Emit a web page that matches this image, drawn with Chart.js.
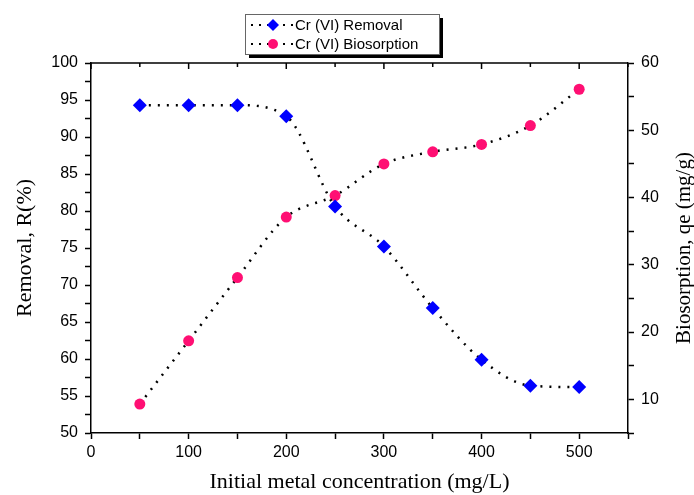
<!DOCTYPE html>
<html>
<head>
<meta charset="utf-8">
<script src="https://cdn.jsdelivr.net/npm/chart.js@4.4.1/dist/chart.umd.min.js"></script>
<style>
  html, body { margin: 0; padding: 0; background: #fff; }
  #wrap { width: 694px; height: 495px; position: relative; }
</style>
</head>
<body>
<div id="wrap"><canvas id="chart" width="694" height="495"></canvas></div>
<script>
// values
const concentrations = [50, 100, 150, 200, 250, 300, 350, 400, 450, 500];
const removal = [94.3, 94.3, 94.3, 92.8, 80.6, 75.2, 66.9, 59.9, 56.4, 56.2];
const biosorption = [9.3, 18.7, 28.1, 37.1, 40.3, 45.0, 46.8, 47.9, 50.7, 56.1];
const seriesNames = ['Cr (VI) Removal', 'Cr (VI) Biosorption'];
const rightTitle = 'Biosorption, qe (mg/g)';

const blue = '#0000ff';
const pink = '#ff0f73';
const sans = "'Liberation Sans', Arial, sans-serif";
const serif = "'Liberation Serif', 'Times New Roman', serif";

// frame top border with inward ticks, right title (reads upward) and boxed legend with shadow
const extras = {
    id: 'extras',
    afterDraw(chart) {
        const c = chart.ctx;
        const area = chart.chartArea;
        const x = chart.scales.x;
        c.save();
        c.strokeStyle = '#000';
        c.lineWidth = 1.5;
        c.beginPath();
        c.moveTo(area.left, area.top);
        c.lineTo(area.right, area.top);
        x.ticks.forEach(t => {
            const px = x.getPixelForValue(t.value);
            c.moveTo(px, area.top);
            c.lineTo(px, area.top + (t.value % 100 === 0 ? 6 : 4));
        });
        c.stroke();

        // right axis title
        c.save();
        c.translate(684, (area.top + area.bottom) / 2);
        c.rotate(-Math.PI / 2);
        c.fillStyle = '#000';
        c.font = '21px ' + serif;
        c.textAlign = 'center';
        c.textBaseline = 'middle';
        c.fillText(rightTitle, 0, 0);
        c.restore();

        // legend
        const bx = 245, by = 14, bw = 194, bh = 40;
        c.fillStyle = '#000';
        c.fillRect(bx + 4, by + 4, bw, bh);
        c.fillStyle = '#fff';
        c.fillRect(bx, by, bw, bh);
        c.strokeStyle = '#666';
        c.lineWidth = 1;
        c.strokeRect(bx + 0.5, by + 0.5, bw, bh);
        chart.data.datasets.forEach((ds, i) => {
            const cy = by + 11 + i * 19;
            c.strokeStyle = '#000';
            c.lineWidth = 2;
            c.setLineDash([2, 6]);
            c.beginPath();
            c.moveTo(bx + 6, cy);
            c.lineTo(bx + 48, cy);
            c.stroke();
            c.setLineDash([]);
            c.fillStyle = ds.pointBackgroundColor;
            c.beginPath();
            if (ds.pointStyle === 'rectRot') {
                c.moveTo(bx + 28, cy - 6);
                c.lineTo(bx + 34, cy);
                c.lineTo(bx + 28, cy + 6);
                c.lineTo(bx + 22, cy);
            } else {
                c.arc(bx + 28, cy, 5, 0, Math.PI * 2);
            }
            c.fill();
            c.fillStyle = '#000';
            c.font = '15px ' + sans;
            c.textBaseline = 'middle';
            c.fillText(ds.label, bx + 50, cy + 1);
        });
        c.restore();
    }
};

const ctx = document.getElementById('chart').getContext('2d');
new Chart(ctx, {
    type: 'line',
    data: {
        labels: concentrations,
        datasets: [{
            label: seriesNames[0],
            data: concentrations.map((c, i) => ({x: c, y: removal[i]})),
            yAxisID: 'y',
            borderColor: '#000',
            borderWidth: 2.5,
            borderDash: [2, 7],
            cubicInterpolationMode: 'monotone',
            pointStyle: 'rectRot',
            pointRadius: 7,
            pointBackgroundColor: blue,
            pointBorderColor: blue,
            pointBorderWidth: 0
        }, {
            label: seriesNames[1],
            data: concentrations.map((c, i) => ({x: c, y: biosorption[i]})),
            yAxisID: 'y1',
            borderColor: '#000',
            borderWidth: 2.5,
            borderDash: [2, 7],
            cubicInterpolationMode: 'monotone',
            pointStyle: 'circle',
            pointRadius: 5.5,
            pointBackgroundColor: pink,
            pointBorderColor: pink,
            pointBorderWidth: 0
        }]
    },
    options: {
        responsive: false,
        animation: false,
        layout: { padding: { top: 63, left: 0, right: 0, bottom: 0 } },
        plugins: {
            legend: { display: false },
            tooltip: { enabled: false }
        },
        scales: {
            x: {
                type: 'linear',
                min: 0,
                max: 550,
                afterFit: s => { s.height = 62; },
                ticks: {
                    stepSize: 50,
                    autoSkip: false,
                    maxRotation: 0,
                    color: '#000',
                    font: { family: sans, size: 16 },
                    padding: 4,
                    callback: v => (v % 100 === 0 && v <= 500 ? v : '')
                },
                grid: { drawOnChartArea: false, tickLength: 6, color: '#000', tickWidth: 1.5 },
                border: { color: '#000', width: 1.5 },
                title: {
                    display: true,
                    text: 'Initial metal concentration (mg/L)',
                    color: '#000',
                    font: { family: serif, size: 22 },
                    padding: { top: 4, bottom: 0 }
                }
            },
            y: {
                min: 50,
                max: 100,
                position: 'left',
                afterFit: s => { s.width = 91; },
                ticks: {
                    stepSize: 2.5,
                    autoSkip: false,
                    color: '#000',
                    font: { family: sans, size: 16 },
                    padding: 7,
                    callback: v => (v % 5 === 0 ? v : '')
                },
                grid: { drawOnChartArea: false, tickLength: 6, color: '#000', tickWidth: 1.5 },
                border: { color: '#000', width: 1.5 },
                title: {
                    display: true,
                    text: 'Removal, R(%)',
                    color: '#000',
                    font: { family: serif, size: 22 },
                    padding: { top: 12, bottom: 0 }
                }
            },
            y1: {
                min: 5,
                max: 60,
                position: 'right',
                afterFit: s => { s.width = 66; },
                ticks: {
                    stepSize: 5,
                    autoSkip: false,
                    color: '#000',
                    font: { family: sans, size: 16 },
                    padding: 7,
                    callback: v => (v % 10 === 0 ? v : '')
                },
                grid: { drawOnChartArea: false, tickLength: 6, color: '#000', tickWidth: 1.5 },
                border: { color: '#000', width: 1.5 }
            }
        }
    },
    plugins: [extras]
});
</script>
</body>
</html>
